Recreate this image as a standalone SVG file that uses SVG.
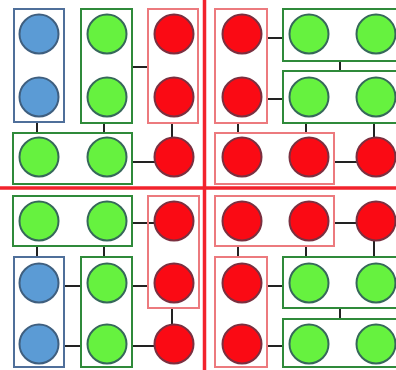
<svg xmlns="http://www.w3.org/2000/svg" width="396" height="370" viewBox="0 0 396 370">
<style>
.bb{fill:none;stroke:#4f6f9a;stroke-width:2}
.gb{fill:none;stroke:#2f8a3a;stroke-width:2}
.rb{fill:none;stroke:#ec7a7e;stroke-width:2}
.b{fill:#5b9bd5;stroke:#3f5f7f;stroke-width:2}
.g{fill:#66f23f;stroke:#36685a;stroke-width:2}
.r{fill:#fa0a14;stroke:#7a3040;stroke-width:2}
.c{stroke:#222;stroke-width:2;fill:none}
.div{stroke:#f2232d;stroke-width:3.5}
</style>
<rect width="396" height="370" fill="#ffffff"/>
<g id="dividers">
<line class="div" x1="204.5" y1="0" x2="204.5" y2="370"/>
<line class="div" x1="0" y1="188" x2="396" y2="188"/>
</g>
<g id="connectors">
<line class="c" x1="132" y1="67" x2="148" y2="67"/>
<line class="c" x1="37" y1="122" x2="37" y2="133"/>
<line class="c" x1="104" y1="123" x2="104" y2="133"/>
<line class="c" x1="172" y1="123" x2="172" y2="139"/>
<line class="c" x1="132" y1="162" x2="156" y2="162"/>
<line class="c" x1="267" y1="38" x2="283" y2="38"/>
<line class="c" x1="267" y1="99" x2="283" y2="99"/>
<line class="c" x1="340" y1="61" x2="340" y2="71"/>
<line class="c" x1="238" y1="123" x2="238" y2="133"/>
<line class="c" x1="306" y1="123" x2="306" y2="133"/>
<line class="c" x1="374" y1="123" x2="374" y2="138"/>
<line class="c" x1="334" y1="162" x2="358" y2="162"/>
<line class="c" x1="132" y1="223" x2="156" y2="223"/>
<line class="c" x1="37" y1="246" x2="37" y2="257"/>
<line class="c" x1="104" y1="246" x2="104" y2="257"/>
<line class="c" x1="64" y1="286" x2="81" y2="286"/>
<line class="c" x1="64" y1="346" x2="81" y2="346"/>
<line class="c" x1="132" y1="286" x2="148" y2="286"/>
<line class="c" x1="132" y1="346" x2="156" y2="346"/>
<line class="c" x1="172" y1="308" x2="172" y2="325"/>
<line class="c" x1="334" y1="223" x2="358" y2="223"/>
<line class="c" x1="238" y1="246" x2="238" y2="257"/>
<line class="c" x1="306" y1="246" x2="306" y2="257"/>
<line class="c" x1="374" y1="239" x2="374" y2="257"/>
<line class="c" x1="267" y1="286" x2="283" y2="286"/>
<line class="c" x1="267" y1="346" x2="283" y2="346"/>
<line class="c" x1="340" y1="308" x2="340" y2="319"/>
</g>
<g id="tl-blue"><rect class="bb" x="14" y="9" width="50" height="113"/><circle class="b" cx="39" cy="34" r="19.5"/><circle class="b" cx="39" cy="97" r="19.5"/></g>
<g id="tl-green"><rect class="gb" x="81" y="9" width="51" height="114"/><circle class="g" cx="107" cy="34" r="19.5"/><circle class="g" cx="107" cy="97" r="19.5"/></g>
<g id="tl-red"><rect class="rb" x="148" y="9" width="50" height="114"/><circle class="r" cx="174" cy="34" r="19.5"/><circle class="r" cx="174" cy="97" r="19.5"/></g>
<g id="tl-greenrow"><rect class="gb" x="13" y="133" width="119" height="51"/><circle class="g" cx="39" cy="157" r="19.5"/><circle class="g" cx="107" cy="157" r="19.5"/></g>
<g id="tl-red3"><circle class="r" cx="174" cy="157" r="19.5"/></g>
<g id="tr-red"><rect class="rb" x="215" y="9" width="52" height="114"/><circle class="r" cx="242" cy="34" r="19.5"/><circle class="r" cx="242" cy="97" r="19.5"/></g>
<g id="tr-green1"><rect class="gb" x="283" y="9" width="120" height="52"/><circle class="g" cx="309" cy="34" r="19.5"/><circle class="g" cx="376" cy="34" r="19.5"/></g>
<g id="tr-green2"><rect class="gb" x="283" y="71" width="120" height="52"/><circle class="g" cx="309" cy="97" r="19.5"/><circle class="g" cx="376" cy="97" r="19.5"/></g>
<g id="tr-redrow"><rect class="rb" x="215" y="133" width="119" height="51"/><circle class="r" cx="242" cy="157" r="19.5"/><circle class="r" cx="309" cy="157" r="19.5"/></g>
<g id="tr-red3"><circle class="r" cx="376" cy="157" r="19.5"/></g>
<g id="bl-greenrow"><rect class="gb" x="13" y="196" width="119" height="50"/><circle class="g" cx="39" cy="221" r="19.5"/><circle class="g" cx="107" cy="221" r="19.5"/></g>
<g id="bl-red"><rect class="rb" x="148" y="196" width="51" height="112"/><circle class="r" cx="174" cy="221" r="19.5"/><circle class="r" cx="174" cy="283" r="19.5"/></g>
<g id="bl-blue"><rect class="bb" x="14" y="257" width="50" height="110"/><circle class="b" cx="39" cy="283" r="19.5"/><circle class="b" cx="39" cy="344" r="19.5"/></g>
<g id="bl-green"><rect class="gb" x="81" y="257" width="51" height="110"/><circle class="g" cx="107" cy="283" r="19.5"/><circle class="g" cx="107" cy="344" r="19.5"/></g>
<g id="bl-red3"><circle class="r" cx="174" cy="344" r="19.5"/></g>
<g id="br-redrow"><rect class="rb" x="215" y="196" width="119" height="50"/><circle class="r" cx="242" cy="221" r="19.5"/><circle class="r" cx="309" cy="221" r="19.5"/></g>
<g id="br-red3"><circle class="r" cx="376" cy="221" r="19.5"/></g>
<g id="br-red"><rect class="rb" x="215" y="257" width="52" height="110"/><circle class="r" cx="242" cy="283" r="19.5"/><circle class="r" cx="242" cy="344" r="19.5"/></g>
<g id="br-green1"><rect class="gb" x="283" y="257" width="120" height="51"/><circle class="g" cx="309" cy="283" r="19.5"/><circle class="g" cx="376" cy="283" r="19.5"/></g>
<g id="br-green2"><rect class="gb" x="283" y="319" width="120" height="48"/><circle class="g" cx="309" cy="344" r="19.5"/><circle class="g" cx="376" cy="344" r="19.5"/></g>
</svg>
